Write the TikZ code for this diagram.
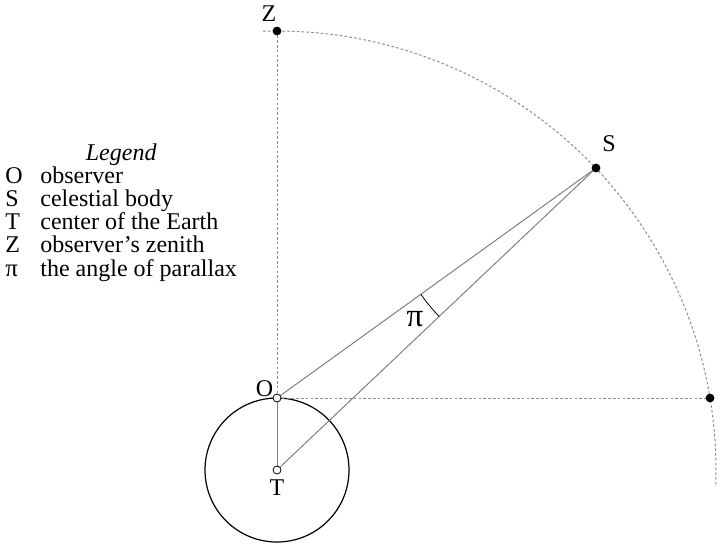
\documentclass[tikz,border=0pt]{standalone}
\usepackage{fontspec}
\setmainfont{Liberation Serif}
\newcommand{\pisym}[1]{{\fontsize{#1}{#1}\selectfont π}}
\usetikzlibrary{angles}
\definecolor{linegray}{gray}{0.5}
\definecolor{dotgray}{gray}{0.55}
\begin{document}
\begin{tikzpicture}[x=0.5pt,y=0.5pt,
  font=\fontsize{12}{10.85}\selectfont,
  thinline/.style={draw=linegray, line width=0.5pt},
  guide/.style={draw=dotgray, line width=0.5pt, dash pattern=on 1.3pt off 1.1pt},
  fdot/.style={circle, fill=black, inner sep=0pt, minimum size=4.4pt},
  odot/.style={circle, draw=black, fill=white, line width=0.4pt, inner sep=0pt, minimum size=4pt},
  lbl/.style={inner sep=0pt}]
\useasboundingbox (0,0) rectangle (721,548);
\coordinate (T) at (277,78);
\coordinate (O) at (277,150);
\coordinate (Z) at (277,517);
\coordinate (S) at (596,380);
\coordinate (R) at (710,150);
% celestial sphere arc
\draw[guide] (T) ++(91.8:439) arc[start angle=91.8, end angle=-2.2, radius=439];
% Earth
\draw[black, line width=0.6pt] (T) circle[radius=72];
% guides
\draw[guide] (O) -- (Z);
\draw[guide] (O) -- (R);
% sight lines
\draw[thinline] (O) -- (S);
\draw[thinline] (T) -- (S);
\draw[thinline] (O) -- (T);
\pic[draw, line width=0.4pt, angle radius=108pt] {angle=O--S--T};
% points
\node[fdot] (Zd) at (Z) {};
\node[fdot] (Sd) at (S) {};
\node[fdot] (Rd) at (R) {};
\node[odot] (Od) at (O) {};
\node[odot] (Td) at (T) {};
% labels
\node[lbl] (Zl) at (269,534) {Z};
\node[lbl] (Sl) at (609,404) {S};
\node[lbl] (Ol) at (264.5,159.5) {O};
\node[lbl] (Tl) at (277,60.5) {T};
\node[lbl] (pil) at (415,228.5) {\pisym{16.5}};
% legend
\node[lbl, anchor=base west] (legend) at (5,388) {\begin{tabular}[t]{@{}p{17.5pt}@{}l@{}}
\multicolumn{2}{c}{\itshape Legend}\\
O & observer\\
S & celestial body\\
T & center of the Earth\\
Z & observer’s zenith\\
\pisym{12.5} & the angle of parallax
\end{tabular}};
\end{tikzpicture}
\end{document}
